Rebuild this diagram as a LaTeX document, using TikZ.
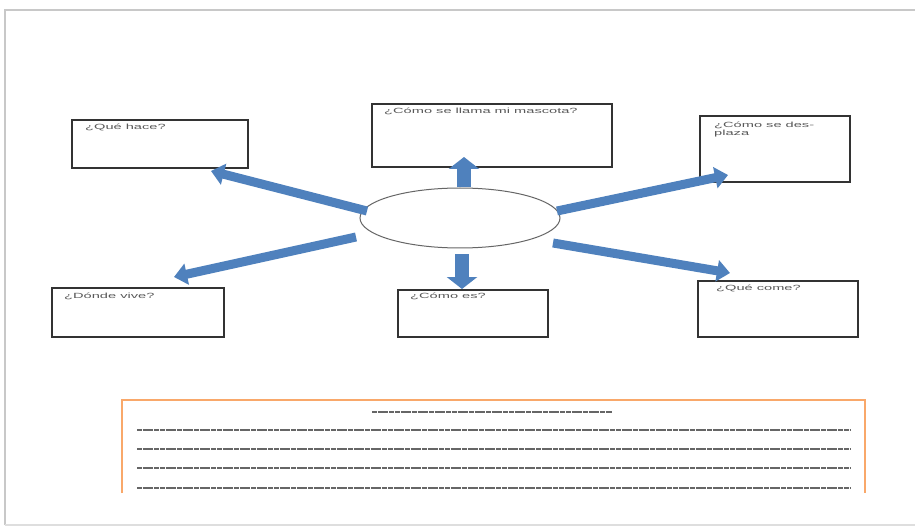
\documentclass[tikz,border=0pt]{standalone}
\usepackage{fontspec}
\setmainfont{Liberation Sans}
\newfontfamily\widesans[FakeStretch=1.95]{Liberation Sans}
\usetikzlibrary{arrows.meta,shapes.geometric}
\definecolor{arrowblue}{HTML}{4F81BD}
\definecolor{frameorange}{HTML}{F9A86A}
\definecolor{pagegray}{HTML}{C8C8C8}
\tikzset{
  qbox/.style={draw=black!80, line width=1.3pt},
  qtext/.style={anchor=north west, inner sep=0pt, font=\widesans\fontsize{7.5}{7.5}\selectfont, text=black!65, align=left},
  blockarrow/.style={draw=arrowblue, line width=9pt, -{Triangle[width=21pt,length=13pt]}},
  vblockarrow/.style={draw=arrowblue, line width=14pt, -{Triangle[width=30pt,length=12pt]}},
  writeline/.style={draw=black!60, line width=1.3pt, dash pattern=on 5pt off 0.7pt},
}
\begin{document}
\begin{tikzpicture}[x=1pt,y=-1pt]
\useasboundingbox (0,0) rectangle (915,529);
\fill[white] (0,0) rectangle (915,529);
% page frame
\draw[pagegray, line width=1.5pt] (5,525) -- (5,10) -- (916,10);
\draw[pagegray!60, line width=1.5pt] (5,525) -- (916,525);
% boxes
\draw[qbox] (72,120) rectangle (248,168);
\node[qtext] (t1) at (85,124) {¿Qué hace?};
\draw[qbox] (372,104) rectangle (612,167);
\node[qtext] (t2) at (384,108) {¿Cómo se llama mi mascota?};
\draw[qbox] (700,116) rectangle (850,182);
\node[qtext] (t3) at (714,122) {¿Cómo se des-\\plaza};
\draw[qbox] (52,288) rectangle (224,337);
\node[qtext] (t4) at (64,293) {¿Dónde vive?};
\draw[qbox] (398,290) rectangle (548,337);
\node[qtext] (t5) at (410,293) {¿Cómo es?};
\draw[qbox] (698,281) rectangle (858,337);
\node[qtext] (t6) at (716,285) {¿Qué come?};
% centre ellipse
\node[ellipse, draw=black!60, line width=1pt, minimum width=200pt, minimum height=60pt, inner sep=0pt] (c) at (460,218) {};
% arrow end coordinates
\coordinate (e1) at (211,171);
\coordinate (e2) at (464,157);
\coordinate (e3) at (728,175);
\coordinate (e4) at (174,277);
\coordinate (e5) at (462,289);
\coordinate (e6) at (730,273);
\coordinate (s1) at (367,211);
\coordinate (s3) at (557,211);
\coordinate (s4) at (356,237);
\coordinate (s6) at (553,243);
\draw[blockarrow] (s1) -- (e1);
\draw[vblockarrow] (c.north -| e2) -- (e2);
\draw[blockarrow] (s3) -- (e3);
\draw[blockarrow] (s4) -- (e4);
\draw[vblockarrow] ([yshift=-6pt]c.south -| e5) -- (e5);
\draw[blockarrow] (s6) -- (e6);
% bottom writing frame
\draw[frameorange, line width=1.5pt] (122,493) -- (122,400) -- (865,400) -- (865,493);
\draw[writeline] (372,412) -- (612,412);
\foreach \yy in {430,449,468,488} {
  \draw[writeline] (137,\yy) -- (850,\yy);
}
\end{tikzpicture}
\end{document}
